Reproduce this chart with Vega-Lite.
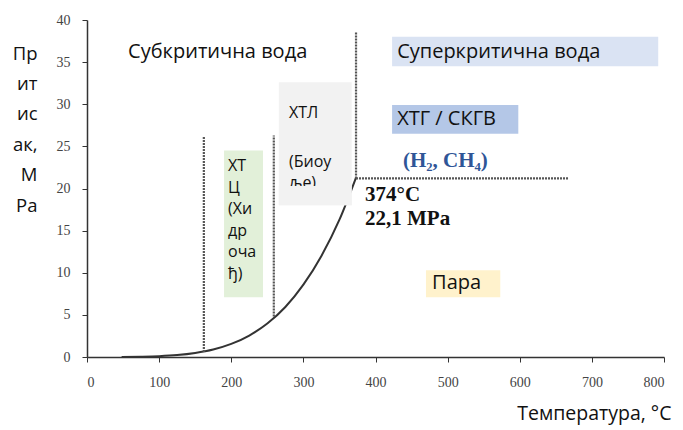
{
  "$schema": "https://vega.github.io/schema/vega-lite/v6.json",
  "autosize": {"type": "none"},
  "padding": {"left": 87, "top": 20, "right": 19, "bottom": 73},
  "width": 577,
  "height": 337,
  "background": "white",
  "config": {"view": {"stroke": null}, "font": "Open Sans"},
  "datasets": {
    "curve": [
      {"t": 48, "p": 0.01}, {"t": 75, "p": 0.04}, {"t": 100, "p": 0.1}, {"t": 125, "p": 0.23},
      {"t": 150, "p": 0.48}, {"t": 175, "p": 0.89}, {"t": 200, "p": 1.55}, {"t": 225, "p": 2.55},
      {"t": 250, "p": 3.97}, {"t": 275, "p": 5.94}, {"t": 300, "p": 8.59}, {"t": 325, "p": 12.0},
      {"t": 350, "p": 16.3}, {"t": 373, "p": 21.3}
    ],
    "vdash": [
      {"t": 162, "p1": 0.6, "p2": 26.2},
      {"t": 259, "p1": 4.8, "p2": 26.3},
      {"t": 373, "p1": 21.2, "p2": 38.6}
    ],
    "hdash": [{"t1": 373, "t2": 667, "p": 21.2}],
    "boxes": [
      {"kind": "super", "t1": 423, "t2": 792, "p1": 34.5, "p2": 38.0},
      {"kind": "htg", "t1": 423, "t2": 598, "p1": 26.5, "p2": 29.9},
      {"kind": "para", "t1": 470, "t2": 573, "p1": 7.1, "p2": 10.3},
      {"kind": "htl", "t1": 266, "t2": 367, "p1": 18.0, "p2": 32.6},
      {"kind": "htc", "t1": 190, "t2": 244, "p1": 7.1, "p2": 24.5}
    ],
    "cover": [{"kind": "htl", "t1": 266, "t2": 367, "p1": 18.0, "p2": 20.3}],
    "big": [
      {"label": "Субкритична вода", "t": 57, "p": 36.2},
      {"label": "Суперкритична вода", "t": 430, "p": 36.2},
      {"label": "ХТГ / СКГВ", "t": 430, "p": 28.25},
      {"label": "Пара", "t": 478.5, "p": 8.8}
    ],
    "small": [
      {"label": "ХТ", "t": 195.5, "p": 22.67},
      {"label": "Ц", "t": 195.5, "p": 20.06},
      {"label": "(Хи", "t": 195.5, "p": 17.57},
      {"label": "др", "t": 195.5, "p": 14.96},
      {"label": "оча", "t": 195.5, "p": 12.46},
      {"label": "ђ)", "t": 195.5, "p": 9.85},
      {"label": "ХТЛ", "t": 280, "p": 29.0},
      {"label": "(Биоу", "t": 280, "p": 23.15},
      {"label": "ље)", "t": 280, "p": 20.6}
    ],
    "bold": [
      {"label": "374°C", "t": 385.5, "p": 19.2},
      {"label": "22,1 MPa", "t": 385.5, "p": 16.4}
    ],
    "gas": [{"label": "(H₂, CH₄)", "t": 438, "p": 23.3}]
  },
  "layer": [
    {
      "data": {"name": "curve"},
      "mark": {"type": "line", "color": "#333333", "strokeWidth": 2, "interpolate": "monotone"},
      "encoding": {
        "x": {"field": "t", "type": "quantitative", "scale": {"domain": [0, 800], "nice": false},
          "axis": {"values": [0,100,200,300,400,500,600,700,800], "grid": false, "domainColor": "#333333", "domainWidth": 1.5,
            "tickColor": "#333333", "tickSize": 5, "labelPadding": 13, "labelFont": "Liberation Serif", "labelFontSize": 14,
            "labelColor": "#444444", "title": "Температура, °C", "titleFont": "Open Sans", "titleFontWeight": "normal",
            "titleFontSize": 19.5, "titleColor": "#111111", "titleAlign": "right", "titleAnchor": null, "titleX": 584, "titleY": 56, "titleBaseline": "middle"}},
        "y": {"field": "p", "type": "quantitative", "scale": {"domain": [0, 40], "nice": false},
          "axis": {"values": [0,5,10,15,20,25,30,35,40], "grid": false, "domainColor": "#333333", "domainWidth": 1.5,
            "tickColor": "#333333", "tickSize": 5, "labelPadding": 12, "labelFont": "Liberation Serif", "labelFontSize": 14,
            "labelColor": "#444444", "title": ["Пр", "ит", "ис", "ак,", "М", "Ра"], "titleAngle": 0, "titleFont": "Open Sans",
            "titleFontWeight": "normal", "titleFontSize": 18.5, "titleColor": "#111111", "titleAlign": "right", "titleAnchor": null,
            "titleX": -50, "titleY": 33, "titleBaseline": "middle", "titleLineHeight": 30.4}}
      }
    },
    {
      "data": {"name": "vdash"},
      "mark": {"type": "rule", "color": "#555555", "strokeWidth": 2.2, "strokeDash": [2, 1]},
      "encoding": {
        "x": {"field": "t", "type": "quantitative"},
        "y": {"field": "p1", "type": "quantitative"},
        "y2": {"field": "p2"}
      }
    },
    {
      "data": {"name": "hdash"},
      "mark": {"type": "rule", "color": "#555555", "strokeWidth": 2.2, "strokeDash": [2, 1]},
      "encoding": {
        "x": {"field": "t1", "type": "quantitative"},
        "x2": {"field": "t2"},
        "y": {"field": "p", "type": "quantitative"}
      }
    },
    {
      "data": {"name": "boxes"},
      "mark": {"type": "rect"},
      "encoding": {
        "x": {"field": "t1", "type": "quantitative"},
        "x2": {"field": "t2"},
        "y": {"field": "p1", "type": "quantitative"},
        "y2": {"field": "p2"},
        "color": {"field": "kind", "type": "nominal", "legend": null,
          "scale": {"domain": ["super", "htg", "para", "htl", "htc"], "range": ["#dae3f3", "#b4c7e7", "#fff2cc", "#f2f2f2", "#e2f0d9"]}}
      }
    },
    {
      "data": {"name": "big"},
      "mark": {"type": "text", "align": "left", "baseline": "middle", "font": "Open Sans", "fontSize": 20, "color": "#111111"},
      "encoding": {
        "x": {"field": "t", "type": "quantitative"},
        "y": {"field": "p", "type": "quantitative"},
        "text": {"field": "label"}
      }
    },
    {
      "data": {"name": "small"},
      "mark": {"type": "text", "align": "left", "baseline": "middle", "font": "Open Sans", "fontSize": 16, "color": "#111111"},
      "encoding": {
        "x": {"field": "t", "type": "quantitative"},
        "y": {"field": "p", "type": "quantitative"},
        "text": {"field": "label"}
      }
    },
    {
      "data": {"name": "cover"},
      "mark": {"type": "rect", "color": "#f2f2f2"},
      "encoding": {
        "x": {"field": "t1", "type": "quantitative"},
        "x2": {"field": "t2"},
        "y": {"field": "p1", "type": "quantitative"},
        "y2": {"field": "p2"}
      }
    },
    {
      "data": {"name": "bold"},
      "mark": {"type": "text", "align": "left", "baseline": "middle", "font": "Liberation Serif", "fontWeight": "bold", "fontSize": 21, "color": "#111111"},
      "encoding": {
        "x": {"field": "t", "type": "quantitative"},
        "y": {"field": "p", "type": "quantitative"},
        "text": {"field": "label"}
      }
    },
    {
      "data": {"name": "gas"},
      "mark": {"type": "text", "align": "left", "baseline": "middle", "font": "Liberation Serif", "fontWeight": "bold", "fontSize": 21, "color": "#2f5597"},
      "encoding": {
        "x": {"field": "t", "type": "quantitative"},
        "y": {"field": "p", "type": "quantitative"},
        "text": {"field": "label"}
      }
    }
  ]
}
